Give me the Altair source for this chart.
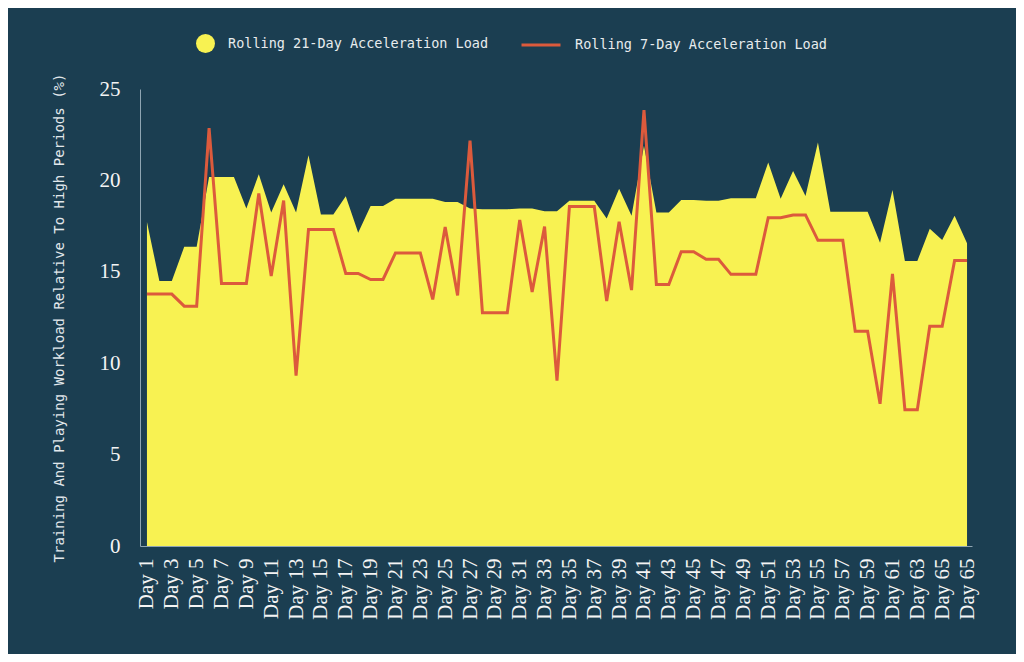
import json
import altair as alt
import pandas as pd

# ---- data ----
load21 = [17.72, 14.49, 14.49, 16.37, 16.37, 20.19, 20.19, 20.19, 18.46, 20.34,
          18.24, 19.79, 18.24, 21.38, 18.13, 18.13, 19.13, 17.14, 18.6, 18.6,
          19.0, 19.0, 19.0, 19.0, 18.82, 18.82, 18.46, 18.42, 18.42, 18.42,
          18.46, 18.46, 18.31, 18.31, 18.88, 18.88, 18.88, 17.91, 19.55, 18.06,
          21.89, 18.24, 18.24, 18.93, 18.93, 18.88, 18.88, 19.02, 19.02, 19.02,
          20.98, 19.0, 20.52, 19.15, 22.08, 18.28, 18.28, 18.28, 18.28, 16.59,
          19.48, 15.59, 15.59, 17.36, 16.74, 18.06, 16.56]
load7 = [13.78, 13.78, 13.78, 13.12, 13.12, 22.86, 14.36, 14.36, 14.36, 19.28,
         14.77, 18.9, 9.32, 17.31, 17.31, 17.31, 14.91, 14.91, 14.58, 14.58,
         16.03, 16.03, 16.03, 13.49, 17.45, 13.71, 22.17, 12.76, 12.76, 12.76,
         17.84, 13.89, 17.47, 9.05, 18.57, 18.57, 18.57, 13.4, 17.74, 14.0,
         23.85, 14.31, 14.31, 16.1, 16.1, 15.68, 15.68, 14.86, 14.86, 14.86,
         17.96, 17.96, 18.11, 18.11, 16.72, 16.72, 16.72, 11.75, 11.75, 7.78,
         14.89, 7.46, 7.46, 12.02, 12.02, 15.62, 15.62]
tick_labels = ["Day 1", "Day 3", "Day 5", "Day 7", "Day 9", "Day 11", "Day 13",
               "Day 15", "Day 17", "Day 19", "Day 21", "Day 23", "Day 25",
               "Day 27", "Day 29", "Day 31", "Day 33", "Day 35", "Day 37",
               "Day 39", "Day 41", "Day 43", "Day 45", "Day 47", "Day 49",
               "Day 51", "Day 53", "Day 55", "Day 57", "Day 59", "Day 61",
               "Day 63", "Day 65", "Day 65"]
series21 = "Rolling 21-Day Acceleration Load"
series7 = "Rolling 7-Day Acceleration Load"
y_title = "Training And Playing Workload Relative To High Periods (%)"

BG = "#1b3e51"
YELLOW = "#f8f252"
RED = "#dc5a3c"
TXT = "#f4f4f4"
MONO = "DejaVu Sans Mono"
SERIF = "Liberation Serif"

df = pd.DataFrame({"idx": list(range(len(load21))), "load21": load21, "load7": load7})
tick_vals = [2 * i for i in range(len(tick_labels))]
label_expr = json.dumps(tick_labels) + "[round(datum.value / 2)]"

x_axis = alt.Axis(values=tick_vals, labelExpr=label_expr, labelAngle=270,
                  labelAlign="right", labelBaseline="middle",
                  labelFont=SERIF, labelFontSize=21, labelColor=TXT,
                  labelPadding=12, ticks=False, grid=False,
                  domainColor="#8fa5b2", domainWidth=1,
                  labelOverlap=False, labelSeparation=0, labelBound=False,
                  title=None)
x_scale = alt.Scale(domain=[-0.56, 66.4], nice=False, zero=False)
y_scale = alt.Scale(domain=[0, 25], nice=False)
y_axis = alt.Axis(values=[0, 5, 10, 15, 20, 25], grid=False, ticks=False,
                  labelFont=SERIF, labelFontSize=21, labelColor=TXT,
                  labelPadding=20, domainColor="#8fa5b2", domainWidth=1,
                  title=y_title, titleFont=MONO, titleFontSize=14,
                  titleFontWeight="normal", titleColor="#e2e8ec",
                  titlePadding=33)

area = alt.Chart(df).transform_calculate(s21="'" + series21 + "'").mark_area(
    interpolate="linear", opacity=1
).encode(
    x=alt.X("idx:Q", scale=x_scale, axis=x_axis),
    y=alt.Y("load21:Q", scale=y_scale, axis=y_axis),
    fill=alt.Fill("s21:N", scale=alt.Scale(domain=[series21], range=[YELLOW]),
                  legend=alt.Legend(orient="none", legendX=56, legendY=-55,
                                    title=None, symbolType="circle",
                                    symbolSize=361, symbolStrokeWidth=0,
                                    labelFont=MONO, labelFontSize=13.5,
                                    labelColor="#e8ecee", labelOffset=13,
                                    labelLimit=400)),
)

line = alt.Chart(df).transform_calculate(s7="'" + series7 + "'").mark_line(
    strokeWidth=3, interpolate="linear"
).encode(
    x=alt.X("idx:Q", scale=x_scale, axis=x_axis),
    y=alt.Y("load7:Q", scale=y_scale, axis=y_axis),
    stroke=alt.Stroke("s7:N", scale=alt.Scale(domain=[series7], range=[RED]),
                      legend=alt.Legend(orient="none", legendX=380, legendY=-65,
                                        title=None, symbolType="stroke",
                                        symbolSize=1521, symbolStrokeWidth=3,
                                        labelFont=MONO, labelFontSize=13.5,
                                        labelColor="#e8ecee", labelOffset=13,
                                        labelLimit=400)),
)

chart = alt.layer(area, line).resolve_scale(fill="independent", stroke="independent").properties(
    width=832, height=457,
    background=BG,
    autosize=alt.AutoSizeParams(type="none"),
    padding={"left": 132, "top": 81, "right": 44, "bottom": 108},
).configure_view(stroke=None).configure_axisX(labelOverlap=False)

chart.save("out.html", embed_options={"renderer": "svg", "actions": False})
